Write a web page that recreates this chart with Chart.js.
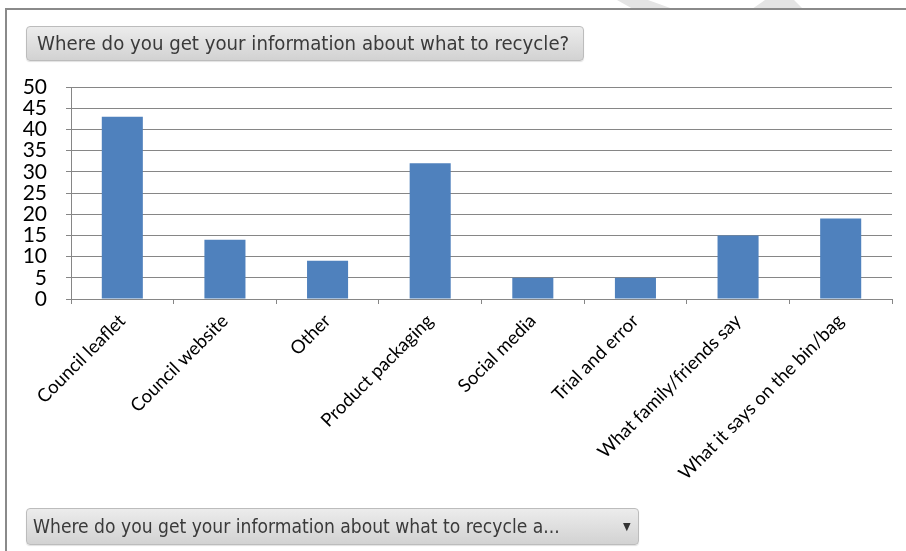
<!DOCTYPE html>
<html>
<head>
<meta charset="utf-8">
<script src="https://cdn.jsdelivr.net/npm/chart.js@4.4.1/dist/chart.umd.min.js"></script>
<style>
  html, body { margin: 0; padding: 0; background: #fff; }
  body { width: 906px; height: 551px; position: relative; overflow: hidden; }
  /* faint stripes poking out above the frame */
  .stripe { position: absolute; top: 0; height: 9px; background: #e4e4e4; }
  #stripe1 { left: 617px; width: 56px; clip-path: polygon(0 0, 31px 0, 56px 100%, 16px 100%); }
  #stripe2 { left: 752px; width: 51px; clip-path: polygon(13px 0, 42px 0, 51px 100%, 0 100%); }
  #frame {
    position: absolute; left: 5px; top: 8px; width: 920px; height: 600px;
    border-top: 2px solid #8a8a8a; border-left: 2px solid #8a8a8a;
  }
  #wrap { position: absolute; left: 0; top: 0; width: 906px; height: 551px; }
  .btn {
    position: absolute; z-index: 2; box-sizing: border-box;
    border: 1px solid #bcbcbc; border-radius: 4px;
    background: linear-gradient(#ececec, #d2d2d2);
    box-shadow: 0 1px 1px rgba(0,0,0,0.12);
    font-family: "Liberation Sans Narrow", "DejaVu Sans Condensed", sans-serif;
    color: #3a3a3a; white-space: nowrap;
  }
  #title { left: 26px; top: 26px; width: 558px; height: 35px; font-size: 20.2px; line-height: 33px; padding-left: 10px; }
  #picker { left: 26px; top: 508px; width: 613px; height: 37px; font-size: 19.1px; line-height: 35px; padding-left: 6px; }
  #picker .arrow { position: absolute; left: 596px; top: 0; font-size: 11px; color: #333; }
</style>
</head>
<body>
<div class="stripe" id="stripe1"></div>
<div class="stripe" id="stripe2"></div>
<div id="frame"></div>
<div class="btn" id="title">Where do you get your information about what to recycle?</div>
<div class="btn" id="picker">Where do you get your information about what to recycle a...<span class="arrow">&#9660;</span></div>
<div id="wrap"><canvas id="barChart"></canvas></div>
<script>
// categories and counts
const sources = [
  'Council leaflet',
  'Council website',
  'Other',
  'Product packaging',
  'Social media',
  'Trial and error',
  'What family/friends say',
  'What it says on the bin/bag'
];
const counts = [43, 14, 9, 32, 5, 5, 15, 19];
const yMin = 0;
const yMax = 50;
const yStep = 5;

const lineGray = '#868686';

const ctx = document.getElementById('barChart').getContext('2d');
const barChart = new Chart(ctx, {
  type: 'bar',
  data: {
    labels: sources,
    datasets: [{
      label: 'Total',
      data: counts,
      backgroundColor: '#4F81BD',
      borderWidth: 0,
      categoryPercentage: 1,
      barPercentage: 0.4
    }]
  },
  options: {
    responsive: true,
    maintainAspectRatio: false,
    animation: false,
    layout: { padding: { left: 10, top: 87, right: 14, bottom: 0 } },
    plugins: {
      legend: { display: false },
      tooltip: { enabled: false }
    },
    scales: {
      x: {
        offset: true,
        grid: {
          offset: true,
          drawOnChartArea: false,
          drawTicks: true,
          tickLength: 5,
          color: lineGray
        },
        border: { color: lineGray, width: 1 },
        ticks: {
          minRotation: 45,
          maxRotation: 45,
          autoSkip: false,
          padding: 6,
          color: '#000',
          font: { family: 'Lato', size: 18.5 }
        },
        afterFit: (scale) => { scale.height = 252; }
      },
      y: {
        min: yMin,
        max: yMax,
        grid: { color: lineGray, tickLength: 5 },
        border: { color: lineGray, width: 1 },
        ticks: {
          stepSize: yStep,
          autoSkip: false,
          padding: 19,
          color: '#000',
          font: { family: 'Lato', size: 21, lineHeight: 1 }
        },
        afterFit: (scale) => { scale.width = 61; }
      }
    }
  }
});
</script>
</body>
</html>
